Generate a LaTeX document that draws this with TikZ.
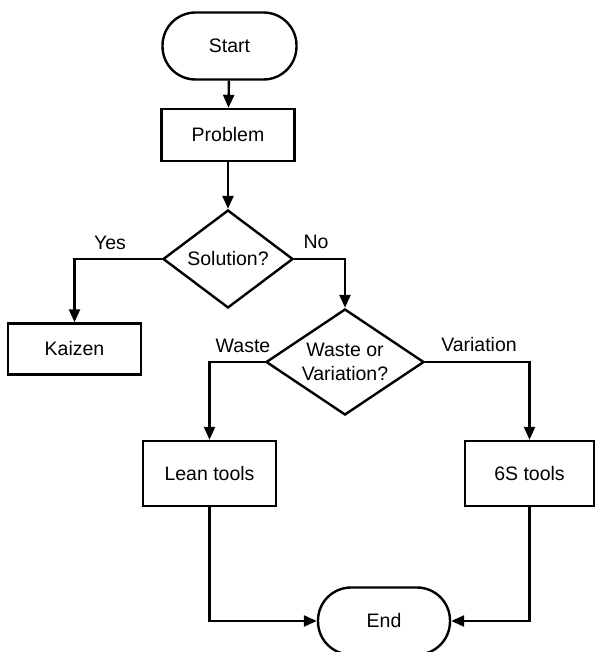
\documentclass[tikz,border=0pt]{standalone}
\usepackage{fontspec}
\setmainfont{Liberation Sans}
\usetikzlibrary{arrows.meta,shapes.geometric}
\begin{document}
\begin{tikzpicture}[x=1pt,y=-1pt,
  font=\fontsize{19.5}{24}\selectfont,
  line width=2.4pt,
  terminal/.style={draw, rectangle, rounded corners=33pt, minimum width=134pt, minimum height=67pt, inner sep=0pt},
  process/.style={draw, rectangle, minimum width=133pt, minimum height=52pt, inner sep=0pt},
  decision/.style={draw, diamond, inner sep=0pt},
  flow/.style={-{Triangle[length=13pt,width=11pt]}, line width=2.4pt},
  tag/.style={inner sep=0pt}]
\useasboundingbox (0,0) rectangle (595,652);

% nodes
\node[terminal] (start) at (229.5,46) {Start};
\node[process] (prob) at (228,135) {Problem};
\node[decision, minimum width=130pt, minimum height=98pt,
      label={[tag]center:Solution?}] (sol) at (228,259) {};
\node[process, minimum height=51pt] (kai) at (74.5,349) {Kaizen};
\node[decision, minimum width=158pt, minimum height=106pt,
      label={[tag, align=center]center:Waste or\\Variation?}] (wv) at (345,362) {};
\node[process, minimum height=65pt] (lean) at (209.5,473.5) {Lean tools};
\node[process, minimum width=129pt, minimum height=65pt] (six) at (529.5,473.5) {6S tools};
\node[terminal, minimum width=132pt] (end) at (384,621) {End};

% branch labels
\node[tag] (yes) at (110,243) {Yes};
\node[tag] (no) at (316,242) {No};
\node[tag] (waste) at (243,346) {Waste};
\node[tag] (var) at (479,345) {Variation};

% connectors
\draw[flow] (start) -- (prob);
\draw[flow] (prob) -- (sol.north);
\draw[flow] (sol.west) -| (kai.north);
\draw[flow] (sol.east) -| (wv.north);
\draw[flow] (wv.west) -| (lean.north);
\draw[flow] (wv.east) -| (six.north);
\draw[flow] (lean.south) |- (end.west);
\draw[flow] (six.south) |- (end.east);
\end{tikzpicture}
\end{document}
